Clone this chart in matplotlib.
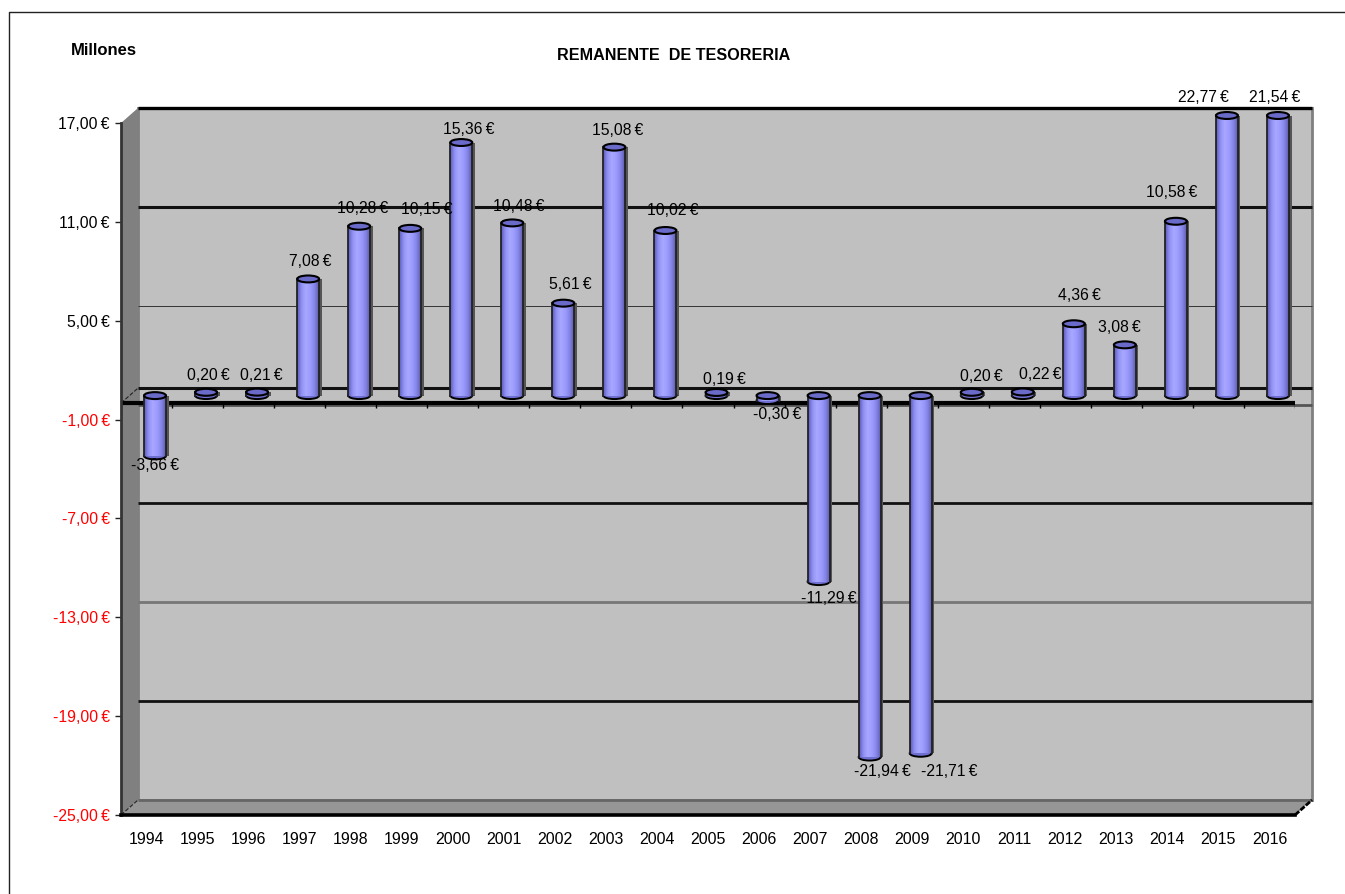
import matplotlib
matplotlib.use("Agg")
import matplotlib.pyplot as plt
import numpy as np
from matplotlib.lines import Line2D
from matplotlib.patches import Ellipse, Polygon
from matplotlib.colors import LinearSegmentedColormap
from matplotlib.transforms import Affine2D

plt.rcParams['font.family'] = ['Liberation Sans', 'DejaVu Sans']

years = [1994, 1995, 1996, 1997, 1998, 1999, 2000, 2001, 2002, 2003, 2004, 2005,
         2006, 2007, 2008, 2009, 2010, 2011, 2012, 2013, 2014, 2015, 2016]
values = [-3.66, 0.20, 0.21, 7.08, 10.28, 10.15, 15.36, 10.48, 5.61, 15.08, 10.02, 0.19,
          -0.30, -11.29, -21.94, -21.71, 0.20, 0.22, 4.36, 3.08, 10.58, 22.77, 21.54]
y_ticks = [17, 11, 5, -1, -7, -13, -19, -25]

W, H = 1345, 894
# front plane of the fake 3d box, in pixels
LEFT, RIGHT, TOP, BOTTOM = 121, 1295, 123, 815
DX, DY = 17, 15

# labels that were dragged by hand in the original (pixels, x right / y down)
label_nudge = {1994: (-5, 1), 1995: (-3, 2), 1996: (-1, 2), 1997: (-3, 2), 1998: (-2, 1), 1999: (12, 0),
               2000: (2, 6), 2001: (1, 3), 2002: (2, 0), 2003: (-2, 2), 2004: (2, -1), 2005: (3, 6),
               2006: (5, 0), 2007: (5, 3), 2008: (8, 0), 2009: (24, 4), 2010: (5, 3), 2011: (12, 2),
               2012: (1, -9), 2013: (-10, 2), 2014: (-9, -10), 2015: (-28, 1), 2016: (-8, 1)}


def fmt(v):
    return "{:.2f}\u2009€".format(v).replace(".", ",")


fig = plt.figure(figsize=(W / 100, H / 100), dpi=100, facecolor="white")
ax = fig.add_axes([LEFT / W, 1 - BOTTOM / H, (RIGHT - LEFT) / W, (BOTTOM - TOP) / H])
ax.patch.set_visible(False)
ymin, ymax = min(y_ticks), max(y_ticks)
xmin, xmax = -0.5, len(years) - 0.5
ax.set_xlim(xmin, xmax)
ax.set_ylim(ymin, ymax)

back = ax.transData + Affine2D().translate(DX, DY)
mid = ax.transData + Affine2D().translate(8.5, 7.5)

# walls
ax.add_patch(Polygon([(xmin, ymin), (xmax, ymin), (xmax, ymax), (xmin, ymax)],
                     transform=back, fc="#c0c0c0", ec="#808080", lw=2, zorder=1, clip_on=False))
p = (RIGHT - LEFT) / (xmax - xmin)
sh = DY * (ymax - ymin) / (BOTTOM - TOP)
ax.add_patch(Polygon([(xmin, ymin), (xmin + DX / p, ymin + sh), (xmax + DX / p, ymin + sh), (xmax, ymin)],
                     fc="#969696", ec="none", zorder=1.1, clip_on=False))
ax.add_patch(Polygon([(xmin, ymin), (xmin + DX / p, ymin + sh), (xmin + DX / p, ymax + sh), (xmin, ymax)],
                     fc="#808080", ec="none", zorder=1.1, clip_on=False))

# gridlines on the back wall, the odd weights come from the downscaled original
grid_lw = {17: 2.4, 11: 2.2, 5: 0.7, -1: 2.0, -7: 2.0, -13: 2.0, -19: 2.0, -25: 2.0}
grid_col = {17: "black", 11: "#111111", 5: "#333333", -1: "#555555", -7: "#111111",
            -13: "#777777", -19: "#111111", -25: "#666666"}
for t in y_ticks:
    ax.plot([xmin, xmax], [t, t], transform=back, color=grid_col[t], lw=grid_lw[t],
            zorder=1.3, clip_on=False, solid_capstyle="butt")
ax.plot([xmin, xmax], [0, 0], transform=back, color="#111111", lw=2.2, zorder=1.3, clip_on=False,
        solid_capstyle="butt")

# corner edges
ax.plot([xmin, xmin + DX / p], [ymin, ymin + sh], color="#222222", lw=0.8, ls="--", zorder=1.4, clip_on=False)
ax.plot([xmin, xmin + DX / p], [0, sh], color="#222222", lw=0.8, ls="--", zorder=1.4, clip_on=False)
ax.plot([xmax, xmax + DX / p], [ymin, ymin + sh], color="black", lw=2, ls=(0, (2, 0.6)), zorder=1.4, clip_on=False)

# x axis at zero with its little ticks
ax.plot([xmin, xmax], [0, 0], color="black", lw=3, zorder=1.6, clip_on=False, solid_capstyle="butt")
ax.vlines(np.arange(len(years) + 1) - 0.5, -0.3, 0, color="black", lw=1, zorder=1.6)

# bars
cyl = LinearSegmentedColormap.from_list("cyl", ["#5a5ab8", "#9090f4", "#a8a8ff", "#9c9cff", "#8686e8", "#5c5cac"])
grad = np.linspace(0, 1, 64).reshape(1, -1)
bw = 0.43
eh = 0.42
for i, v in enumerate(values):
    shown = max(min(v, ymax), ymin)
    hi, lo = max(shown, 0), min(shown, 0)
    z = 3 + i * 0.01
    # shadow on the right side
    ax.add_patch(Polygon([(i + bw / 2, lo), (i + bw / 2 + 0.05, lo), (i + bw / 2 + 0.05, hi), (i + bw / 2, hi)],
                         transform=mid, fc="#555555", ec="none", zorder=z, clip_on=False))
    ax.add_patch(Ellipse((i, lo), bw, eh, transform=mid, fc="#6f6fd0", ec="black", lw=1.4, zorder=z + 0.001,
                         clip_on=False))
    im = ax.imshow(grad, extent=(i - bw / 2, i + bw / 2, lo, hi), cmap=cyl, aspect="auto", zorder=z + 0.002,
                   transform=mid, clip_on=False, interpolation="bilinear")
    ax.plot([i - bw / 2, i - bw / 2], [lo, hi], transform=mid, color="#222222", lw=1.3, zorder=z + 0.003,
            clip_on=False)
    ax.plot([i + bw / 2, i + bw / 2], [lo, hi], transform=mid, color="#222222", lw=1.3, zorder=z + 0.003,
            clip_on=False)
    ax.add_patch(Ellipse((i, hi), bw, eh, transform=mid, fc="#6a6ac8", ec="black", lw=1.5, zorder=z + 0.004,
                         clip_on=False))
    # data label
    off = -19 if v > 0 else 14
    if v == -3.66:
        off = 9
    nx, ny = label_nudge[years[i]]
    ax.annotate(fmt(v), xy=(i, shown), xycoords=mid, xytext=(0.72 * (5 + nx), -(off + ny) * 0.72),
                textcoords="offset points", ha="center", va="center", fontsize=11.3, zorder=6,
                annotation_clip=False)

ax.set_xlim(xmin, xmax)
ax.set_ylim(ymin, ymax)
ax.set_xticks(range(len(years)))
ax.set_xticklabels([str(y) for y in years], fontsize=11.5)
ax.tick_params(axis="x", length=0, pad=12.5)
ax.set_yticks(y_ticks)
ax.set_yticklabels([fmt(t) for t in y_ticks], fontsize=11.3)
ax.tick_params(axis="y", length=4.5, width=1, pad=3.5, color="#222222")
for lab, t in zip(ax.get_yticklabels(), y_ticks):
    lab.set_color("red" if t < 0 else "black")

for s in ["top", "right"]:
    ax.spines[s].set_visible(False)
ax.spines["left"].set_color("#333333")
ax.spines["left"].set_linewidth(2)
ax.spines["bottom"].set_color("black")
ax.spines["bottom"].set_linewidth(2.6)
for s in ax.spines.values():
    s.set_zorder(2)

fig.text(673.5 / W, 1 - 56 / H, "REMANENTE  DE TESORERIA", ha="center", va="center", fontsize=11.6, fontweight="bold")
fig.text(103.5 / W, 1 - 50.5 / H, "Millones", ha="center", va="center", fontsize=12, fontweight="bold")

# outer frame, only top and left survive the crop
fig.add_artist(Line2D([9 / W, 9 / W, 1], [0, 1 - 11.5 / H, 1 - 11.5 / H], color="#222222", lw=1))

fig.savefig("out.png", dpi=100)
